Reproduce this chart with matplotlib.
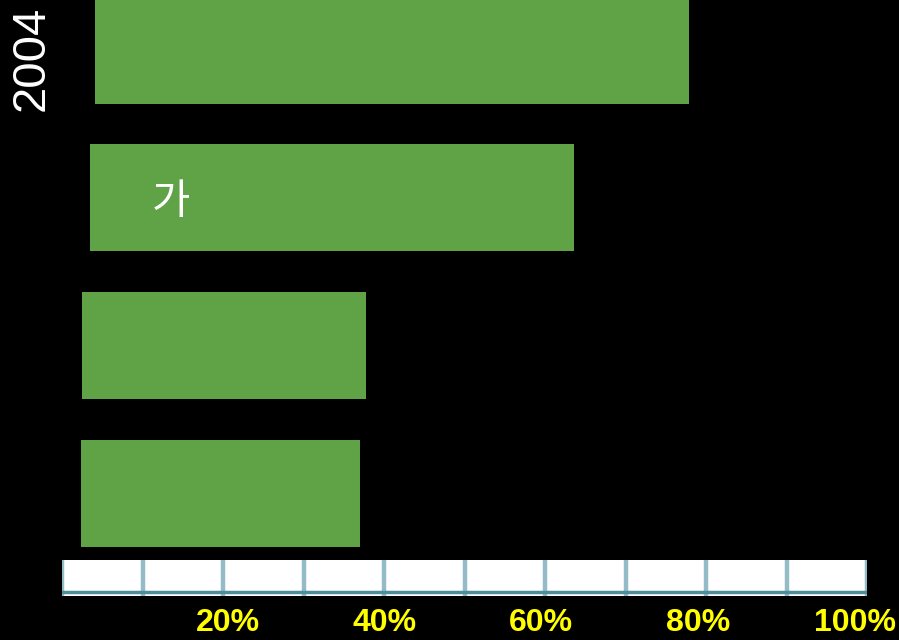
import matplotlib.pyplot as plt
import numpy as np

# bar data: where each bar starts and ends on the percent scale (top to bottom)
bar_start = [3.1, 2.4, 1.4, 1.3]
bar_end = [78.8, 64.2, 37.6, 36.9]
tick_values = [20, 40, 60, 80, 100]
tick_labels = ['20%', '40%', '60%', '80%', '100%']
year_label = '2004'
bar_note = '가'
n_cells = 10

green = '#5fa346'
W, H = 899, 640

fig = plt.figure(figsize=(W / 100, H / 100), dpi=100, facecolor='black')

# main bar area, percent scale 0..100
ax = fig.add_axes([71 / W, 80 / H, 784 / W, 560 / H])
ax.set_facecolor('black')
ypos = np.arange(len(bar_end))
widths = [e - s for s, e in zip(bar_start, bar_end)]
ax.barh(ypos, widths, left=bar_start, height=0.725, color=green)
ax.set_xlim(0, 100)
ax.set_ylim(3.454, -0.342)
for s in ax.spines.values():
    s.set_visible(False)
ax.set_xticks([])
ax.set_yticks([])

ax.text(bar_start[1] + 10.3, ypos[1] + 0.03, bar_note, color='white', fontsize=30,
        fontweight='medium', ha='center', va='center',
        family=['Noto Sans CJK KR', 'DejaVu Sans'])

# segmented white scale strip
sax = fig.add_axes([62 / W, 44 / H, 805 / W, 36 / H])
sax.set_facecolor('white')
sax.set_xlim(0, n_cells)
sax.set_ylim(0, 1)
for i in range(n_cells + 1):
    sax.axvline(i, color='#93bcc6', lw=3.2)
sax.axhline(0.12, color='#4e8e9a', lw=2.5)
for s in sax.spines.values():
    s.set_visible(False)
sax.set_xticks([])
sax.set_yticks([])

# yellow percent labels under the strip
lax = fig.add_axes([71 / W, 0, 784 / W, 40 / H])
lax.set_facecolor('none')
lax.set_xlim(0, 100)
lax.set_ylim(0, 1)
lax.axis('off')
for v, t in zip(tick_values, tick_labels):
    lax.text(v, 0.43, t, color='#ffff00', fontsize=23, fontweight='bold',
             ha='center', va='center', family='Liberation Sans')

fig.text(32 / W, 1 - 58 / H, year_label, color='white', fontsize=34,
         rotation=90, ha='center', va='center', family='Liberation Sans')

fig.savefig('out.png', dpi=100, facecolor='black')
